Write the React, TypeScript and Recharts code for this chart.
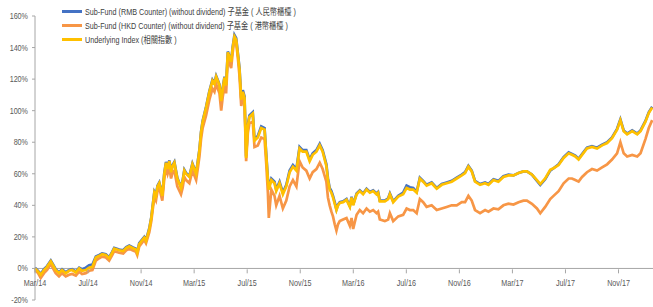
import React from 'react'
import { LineChart, Line, XAxis, YAxis, ReferenceLine, Legend } from 'recharts'

// months since 1 Mar 2014
const MONTHS = [
  0, 0.23, 0.43, 0.68, 0.91, 1.19, 1.36, 1.56, 1.81, 2.04,
  2.32, 2.57, 2.8, 3.08, 3.33, 3.55, 3.83, 4.08, 4.33, 4.59,
  4.84, 5.06, 5.34, 5.59, 5.82, 5.97, 6.35, 6.65, 6.88, 7.11,
  7.35, 7.61, 7.71, 7.86, 8.09, 8.24, 8.37, 8.62, 8.77, 8.87,
  9.0, 9.12, 9.24, 9.37, 9.6, 9.75, 9.88, 10.0, 10.13, 10.26,
  10.38, 10.51, 10.73, 11.01, 11.13, 11.26, 11.39, 11.64, 11.87, 12.15,
  12.27, 12.4, 12.52, 12.64, 12.9, 13.15, 13.38, 13.53, 13.66, 13.78,
  13.91, 14.04, 14.16, 14.29, 14.41, 14.54, 14.66, 14.79, 14.91, 15.04,
  15.17, 15.29, 15.42, 15.55, 15.67, 15.8, 15.92, 16.05, 16.17, 16.42,
  16.55, 16.8, 17.06, 17.31, 17.44, 17.56, 17.63, 17.82, 18.06, 18.19,
  18.44, 18.69, 18.95, 19.2, 19.45, 19.71, 19.95, 20.18, 20.46, 20.71,
  20.94, 21.22, 21.47, 21.69, 21.97, 22.09, 22.22, 22.35, 22.47, 22.6,
  22.73, 22.85, 22.98, 23.23, 23.49, 23.74, 23.87, 23.99, 24.25, 24.49,
  24.74, 25.0, 25.25, 25.5, 25.75, 25.87, 26.0, 26.38, 26.63, 26.76,
  27.01, 27.39, 27.76, 28.02, 28.27, 28.52, 28.78, 29.02, 29.27, 29.53,
  29.91, 30.29, 30.67, 31.04, 31.42, 31.8, 32.18, 32.43, 32.68, 32.93,
  33.18, 33.56, 33.94, 34.19, 34.57, 34.94, 35.32, 35.7, 36.08, 36.46,
  36.83, 37.09, 37.47, 37.85, 38.1, 38.47, 38.85, 39.1, 39.48, 39.86,
  40.24, 40.49, 40.74, 40.99, 41.25, 41.62, 42.0, 42.38, 42.76, 43.14,
  43.51, 43.89, 44.14, 44.39, 44.65, 45.03, 45.41, 45.66, 46.03, 46.28, 46.54,
]

const RMB = [
  0.5, -1.5, -3.5, -0.5, 1.5, 5, 2.5, -0.5, -2.5, -0.5,
  -2.5, -1, -0.5, -2, 0.5, -0.5, 0.5, 2, 2.5, 7.5,
  8.5, 9.5, 9, 7, 10.5, 13, 12, 11.5, 13.5, 14.5,
  13.5, 12.5, 10.5, 16, 18.5, 20, 18, 25.5, 32.5, 39.5,
  48.5, 46.5, 52.5, 54.5, 46.5, 60.5, 67.5, 63.5, 68.5, 61.5,
  65.5, 67.5, 57.5, 51.5, 55.5, 62.5, 60.5, 58.5, 66.5, 60.5,
  67.5, 75.5, 86.5, 93.5, 102.5, 112.5, 119.5, 117.5, 122, 119.5,
  116.5, 106.5, 114.5, 121.5, 116.5, 137.5, 134.5, 131.5, 140.5, 148,
  146, 137, 127, 108, 113, 109, 71, 91, 97, 99,
  82, 84, 90, 89, 72, 57, 51, 57, 55, 50,
  55, 48, 53, 62, 65.5, 63, 77, 75, 75, 69,
  73, 75, 79, 75, 66, 57, 51, 49, 46, 42,
  37.5, 40.5, 42, 42.5, 44, 39.5, 45.5, 40.5, 47.5, 49.5,
  47.5, 50.5, 48.5, 49.5, 47.5, 48.5, 43, 43, 44.5, 47.5,
  42.5, 46, 48, 52.5, 51.5, 51, 48.5, 57.5, 55.5, 53,
  54.5, 51, 53.5, 54.5, 55.5, 57.5, 59.5, 61, 65, 62,
  55.5, 53.5, 54.5, 53.5, 56.5, 55.5, 58.5, 59.5, 59, 60.5,
  61.5, 61.5, 59.5, 55.5, 53, 56.5, 62, 63.5, 66, 70.5,
  73.5, 72.5, 71.5, 69.5, 72.5, 76.5, 77.5, 76.5, 78.5, 80,
  83, 88.5, 94.5, 87.5, 85.5, 87.5, 85.5, 87.5, 93.5, 99, 102.5,
]

const HKD = [
  -1, -3, -6, -3, -1, 3, 0, -3, -5, -3,
  -5, -4, -3.5, -4.5, -2, -3.5, -3, -1.5, -1, 5,
  6.5, 7.5, 7, 5, 8.5, 11, 10, 9.5, 11.5, 12.5,
  11.5, 10.5, 8.5, 14, 16.5, 18, 16, 23, 30, 37,
  45, 43, 49, 51, 43, 57, 64, 60, 64, 57,
  61, 62, 52, 47, 51, 58, 56, 54, 62, 56,
  63, 71, 82, 89, 97, 107, 114, 112, 117, 114,
  111, 100, 109, 116, 111, 133, 130, 127, 137, 146,
  143, 134, 122, 103, 108, 104, 68, 86, 92, 93,
  77, 78, 83, 82, 66, 48, 32, 50, 46, 40,
  46, 38, 43, 52, 56, 52, 68, 64, 62, 57,
  61, 63, 67, 63, 55, 45, 40, 36, 33, 28,
  24, 28, 30, 31, 32, 27, 32, 25, 34, 37,
  35, 38, 36, 37, 35, 36, 31, 30, 31, 35,
  30, 33, 34, 38, 37, 37, 35, 44, 42, 39,
  40, 37, 38, 39, 40, 40, 42, 42, 46, 43,
  37, 35, 37, 36, 38, 37.5, 40, 41, 40.5, 42,
  43, 43, 41, 38, 35, 39, 44, 46, 49, 54,
  57, 57, 56, 55, 58, 61, 63, 62, 64, 66,
  69, 73, 80, 73, 71, 72, 71, 73, 82, 89, 94,
]

const INDEX = [
  0, -2, -4, -1, 1, 4.5, 2, -1, -3, -1,
  -3, -1.5, -1, -2.5, 0, -1.5, -1, 0.5, 1, 7,
  8, 9, 8.5, 6.5, 10, 12.5, 11.5, 11, 13, 14,
  13, 12, 10, 15.5, 18, 19.5, 17.5, 25, 32, 39,
  48, 46, 52, 54, 46, 60, 67, 63, 68, 61,
  65, 67, 57, 51, 55, 62, 60, 58, 66, 60,
  67, 75, 86, 93, 102, 112, 119, 117, 121.5, 119,
  116, 106, 114, 121, 116, 137, 134, 131, 140, 147,
  145, 136, 126, 107, 112, 108, 70, 90, 96, 98,
  81, 83, 89, 88, 71, 56, 50, 56, 54, 49,
  54, 47, 52, 61, 64.5, 62, 76, 74, 74, 68,
  72, 74, 78, 74, 65, 56, 50, 48, 45, 41,
  37, 40, 41.5, 42, 43.5, 39, 45, 40, 47, 49,
  47, 50, 48, 49, 47, 48, 42.5, 42.5, 44, 47,
  42, 45.5, 47, 51, 50, 50, 48, 57, 55, 52.5,
  54, 50.5, 53, 54, 55, 57, 59, 60.5, 64.5, 61.5,
  55, 53, 54, 53, 56, 55, 58, 59, 59, 60.5,
  61.5, 61.5, 59.5, 56, 53.5, 57, 62.5, 63.5, 65.5, 70,
  73, 72, 71, 69, 72, 76, 77, 76, 78, 79.5,
  82.5, 88, 94, 87, 85, 87, 85, 87, 93, 98.5, 102,
]

const TICK_MONTHS = [0, 4, 8, 12, 16, 20, 24, 28, 32, 36, 40, 44]
const TICK_LABELS = ['Mar/14', 'Jul/14', 'Nov/14', 'Mar/15', 'Jul/15', 'Nov/15', 'Mar/16', 'Jul/16', 'Nov/16', 'Mar/17', 'Jul/17', 'Nov/17']
const Y_TICKS = [-20, 0, 20, 40, 60, 80, 100, 120, 140, 160]

const SERIES_NAMES = [
  'Sub-Fund (RMB Counter)  (without dividend) 子基金 ( 人民幣櫃檯 )',
  'Sub-Fund (HKD Counter) (without dividend) 子基金 ( 港幣櫃檯 )',
  'Underlying Index (相關指數 )',
]

const W = 653
const H = 307
const TOP = 16
const BOTTOM = 6
const Y_MIN = -20
const Y_MAX = 160
const ZERO_Y = TOP + ((H - TOP - BOTTOM) * Y_MAX) / (Y_MAX - Y_MIN)

// narrow look, like Calibri in the original
const FONT = '"Liberation Sans", Arial, "Noto Sans CJK TC", sans-serif'
const SQUEEZE = 0.8
const AXIS_COLOR = '#A6A6A6'
const TEXT_COLOR = '#595959'

const data = MONTHS.map((m, i) => ({ m, rmb: RMB[i], hkd: HKD[i], idx: INDEX[i] }))

const XTick = (props: any) => {
  const { x, payload } = props
  const i = TICK_MONTHS.indexOf(payload.value)
  return (
    <g>
      <line x1={x} x2={x} y1={ZERO_Y} y2={ZERO_Y + 4} stroke={AXIS_COLOR} />
      <text
        transform={`translate(${x},${ZERO_Y + 17}) scale(${SQUEEZE},1)`}
        textAnchor="middle"
        fill={TEXT_COLOR}
        fontSize={9}
        fontFamily={FONT}
      >
        {TICK_LABELS[i]}
      </text>
    </g>
  )
}

const YTick = (props: any) => {
  const { x, y, payload } = props
  return (
    <text
      transform={`translate(${x},${y + 3}) scale(${SQUEEZE},1)`}
      textAnchor="end"
      fill={TEXT_COLOR}
      fontSize={9}
      fontFamily={FONT}
    >
      {`${payload.value}%`}
    </text>
  )
}

const renderLegend = ({ payload }: any) => {
  const items = [...(payload || [])].sort(
    (a: any, b: any) => SERIES_NAMES.indexOf(a.value) - SERIES_NAMES.indexOf(b.value)
  )
  return (
    <div style={{ fontFamily: FONT, fontSize: 9, color: '#404040' }}>
      {items.map((item: any) => (
        <div key={item.value} style={{ display: 'flex', alignItems: 'center', height: 14 }}>
          <span style={{ display: 'inline-block', width: 20, height: 3, background: item.color, marginRight: 3 }} />
          <span style={{ whiteSpace: 'nowrap', display: 'inline-block', transform: `scaleX(${SQUEEZE})`, transformOrigin: 'left center' }}>
            {item.value}
          </span>
        </div>
      ))}
    </div>
  )
}

export default function App() {
  return (
    <div style={{ position: 'absolute', left: 0, top: 0, width: W, height: H, background: '#fff' }}>
      <LineChart width={W} height={H} data={data} margin={{ top: TOP, right: 0, bottom: BOTTOM, left: 0 }}>
        <XAxis
          dataKey="m"
          type="number"
          domain={[0, 46.6]}
          ticks={TICK_MONTHS}
          interval={0}
          axisLine={false}
          tickLine={false}
          height={1}
          tick={(p: any) => <XTick {...p} />}
        />
        <YAxis
          type="number"
          domain={[Y_MIN, Y_MAX]}
          ticks={Y_TICKS}
          interval={0}
          width={35}
          tickSize={3}
          tickMargin={4}
          axisLine={{ stroke: AXIS_COLOR }}
          tickLine={{ stroke: AXIS_COLOR }}
          tick={(p: any) => <YTick {...p} />}
        />
        <ReferenceLine y={0} stroke={AXIS_COLOR} />
        <Legend
          layout="vertical"
          align="center"
          verticalAlign="middle"
          content={renderLegend}
          wrapperStyle={{ position: 'absolute', left: 62, top: 4, width: 'auto' }}
        />
        <Line dataKey="rmb" name={SERIES_NAMES[0]} stroke="#4472C4" strokeWidth={2.7} dot={false} isAnimationActive={false} />
        <Line dataKey="hkd" name={SERIES_NAMES[1]} stroke="#F79646" strokeWidth={2.7} dot={false} isAnimationActive={false} />
        <Line dataKey="idx" name={SERIES_NAMES[2]} stroke="#FFC000" strokeWidth={2.7} dot={false} isAnimationActive={false} />
      </LineChart>
    </div>
  )
}
